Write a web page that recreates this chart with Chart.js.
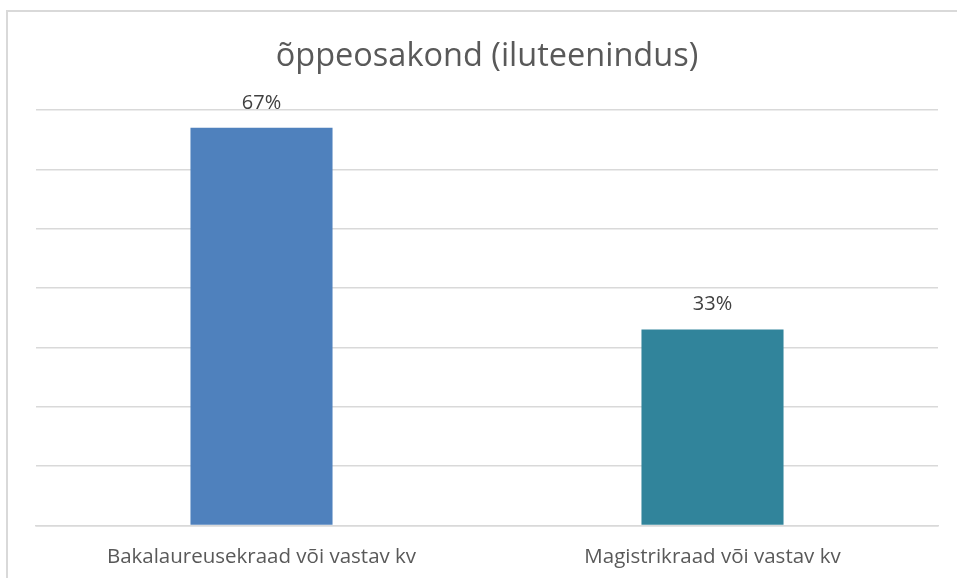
<!DOCTYPE html>
<html>
<head>
<meta charset="utf-8">
<script src="https://cdn.jsdelivr.net/npm/chart.js@4.4.0/dist/chart.umd.min.js"></script>
<style>
  html, body { margin: 0; padding: 0; background: #fff; }
  #wrap { position: relative; width: 957px; height: 578px; overflow: hidden; }
  #frame { position: absolute; left: 6px; top: 10px; width: 1000px; height: 700px;
           border-left: 2px solid #d9d9d9; border-top: 2px solid #d9d9d9; }
  canvas { position: absolute; left: 0; top: 0; }
</style>
</head>
<body>
<div id="wrap">
  <div id="frame"></div>
  <canvas id="myChart" width="957" height="598"></canvas>
</div>
<script>
const chartTitle = 'õppeosakond (iluteenindus)';
const categories = ['Bakalaureusekraad või vastav kv', 'Magistrikraad või vastav kv'];
const shares = [0.67, 0.33];
const barColors = ['#4f81bd', '#31849b'];

// draws the percentage above each bar
const valueLabels = {
  id: 'valueLabels',
  afterDatasetsDraw(chart) {
    const ctx = chart.ctx;
    const meta = chart.getDatasetMeta(0);
    ctx.save();
    ctx.font = '20px "Open Sans"';
    ctx.fillStyle = '#404040';
    ctx.textAlign = 'center';
    ctx.textBaseline = 'middle';
    meta.data.forEach((bar, i) => {
      ctx.fillText(Math.round(shares[i] * 100) + '%', bar.x, bar.y - 25);
    });
    ctx.restore();
  }
};

function makeChart() {
  const ctx = document.getElementById('myChart');
  const myChart = new Chart(ctx, {
    type: 'bar',
    data: {
      labels: categories,
      datasets: [{
        data: shares,
        backgroundColor: barColors,
        borderWidth: 0,
        categoryPercentage: 1,
        barPercentage: 0.315
      }]
    },
    options: {
      responsive: false,
      animation: false,
      layout: { padding: { left: 36, right: 19, top: 0, bottom: 10 } },
      plugins: {
        legend: { display: false },
        tooltip: { enabled: false },
        title: {
          display: true,
          text: chartTitle,
          color: '#595959',
          font: { family: 'Open Sans', size: 32.5, weight: 'normal' },
          padding: { top: 37, bottom: 34 }
        }
      },
      scales: {
        y: {
          min: 0,
          max: 0.7,
          ticks: { display: false, stepSize: 0.1 },
          grid: { color: '#d9d9d9', lineWidth: 1.5, drawTicks: false },
          border: { display: false }
        },
        x: {
          ticks: {
            color: '#595959',
            font: { family: 'Open Sans', size: 20.5 },
            padding: 19,
            minRotation: 0,
            maxRotation: 0
          },
          grid: { display: false, drawTicks: false },
          border: { color: '#d9d9d9', width: 1.5 }
        }
      }
    },
    plugins: [valueLabels]
  });
  return myChart;
}

document.addEventListener('DOMContentLoaded', function() {
  makeChart();
});
</script>
</body>
</html>
